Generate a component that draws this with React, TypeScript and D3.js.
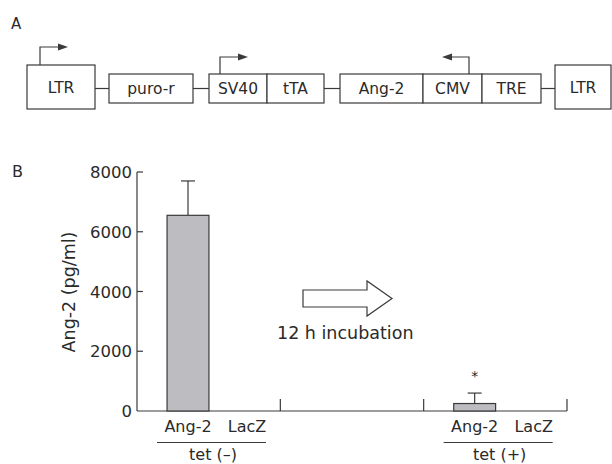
import * as d3 from "d3";

// ---- data ----
const slots = ["tet (–)", "gap", "tet (+)"];
const subCats = ["Ang-2", "LacZ"];
const means = [
  [6550, 0],
  [0, 0],
  [250, 0],
];
const errors = [
  [1150, 0],
  [0, 0],
  [350, 0],
];
const yTicks = [0, 2000, 4000, 6000, 8000];

// construct elements (panel A)
const leftParts = ["puro-r"];
const sv40Parts = ["SV40", "tTA"];
const angParts = ["Ang-2", "CMV", "TRE"];

const W = 612;
const H = 464;
const FONT = "'DejaVu Sans', sans-serif";
const INK = "#3a3a3a";
const TXT = "#2a2a2a";

export default function App() {
  const y = d3.scaleLinear().domain([0, 8000]).range([411, 172]);
  const x0 = d3.scaleBand().domain(slots).range([137, 567]);
  const x1 = d3
    .scaleBand()
    .domain(subCats)
    .range([21.5, 139.5])
    .paddingInner(0.29)
    .paddingOuter(0.145);

  const arrowHead = (tx: number, ty: number, dir: number) =>
    `M${tx},${ty} L${tx - dir * 10},${ty - 3.5} L${tx - dir * 10},${ty + 3.5} Z`;

  const box = (x: number, w: number, top: number, h: number, label: string, key: string) => (
    <g key={key}>
      <rect x={x} y={top} width={w} height={h} fill="white" stroke={INK} strokeWidth={1.2} />
      <text x={x + w / 2} y={top + h / 2 + 5.5} textAnchor="middle" fontSize={15.5} fill={TXT}>
        {label}
      </text>
    </g>
  );

  return (
    <svg width={W} height={H} style={{ position: "absolute", left: 0, top: 0, background: "white" }} fontFamily={FONT}>
      {/* Panel A */}
      <text x={11} y={29} fontSize={15} fill={TXT}>A</text>
      {/* connector lines */}
      {[[95, 109], [193, 209], [324, 340], [541, 555]].map(([a, b], i) => (
        <line key={i} x1={a} x2={b} y1={88.5} y2={88.5} stroke={INK} strokeWidth={1.2} />
      ))}
      {box(27, 68, 65, 44, "LTR", "ltr1")}
      {box(109, 84, 74, 29, leftParts[0], "puro")}
      {box(209, 58, 74, 29, sv40Parts[0], "sv40")}
      {box(267, 57, 74, 29, sv40Parts[1], "tta")}
      {box(340, 83, 74, 29, angParts[0], "ang")}
      {box(423, 59, 74, 29, angParts[1], "cmv")}
      {box(482, 59, 74, 29, angParts[2], "tre")}
      {box(555, 56, 65, 44, "LTR", "ltr2")}
      {/* promoter arrows */}
      <path d="M40,65 V47 H58" fill="none" stroke={INK} strokeWidth={1.2} />
      <path d={arrowHead(68, 47, 1)} fill={INK} />
      <path d="M220,74 V57 H238" fill="none" stroke={INK} strokeWidth={1.2} />
      <path d={arrowHead(248, 57, 1)} fill={INK} />
      <path d="M469,74 V57 H452" fill="none" stroke={INK} strokeWidth={1.2} />
      <path d={arrowHead(442, 57, -1)} fill={INK} />

      {/* Panel B */}
      <text x={12} y={177} fontSize={16} fill={TXT}>B</text>
      {/* y axis */}
      <line x1={137} x2={137} y1={y(8000)} y2={y(0)} stroke={INK} strokeWidth={1.2} />
      {yTicks.map((t) => (
        <g key={t}>
          {t > 0 && <line x1={137} x2={143} y1={y(t)} y2={y(t)} stroke={INK} strokeWidth={1.2} />}
          <text x={132} y={y(t) + 6} textAnchor="end" fontSize={16.5} fill={TXT}>{t}</text>
        </g>
      ))}
      <text transform={`translate(75,292) rotate(-90)`} textAnchor="middle" fontSize={17.5} fill={TXT}>
        Ang-2 (pg/ml)
      </text>
      {/* x axis */}
      <line x1={137} x2={567} y1={y(0)} y2={y(0)} stroke={INK} strokeWidth={1.2} />
      {slots.map((s) => {
        const xe = (x0(s) as number) + x0.bandwidth();
        return <line key={s} x1={xe} x2={xe} y1={y(0)} y2={y(0) - 12} stroke={INK} strokeWidth={1.2} />;
      })}
      {/* bars */}
      {slots.map((s, gi) =>
        subCats.map((c, ci) => {
          const v = means[gi][ci];
          if (v <= 0) return null;
          const bx = (x0(s) as number) + (x1(c) as number);
          const cx = bx + x1.bandwidth() / 2;
          const top = y(v + errors[gi][ci]);
          return (
            <g key={s + c}>
              <line x1={cx} x2={cx} y1={y(v)} y2={top} stroke={INK} strokeWidth={1.2} />
              <line x1={cx - 7} x2={cx + 7} y1={top} y2={top} stroke={INK} strokeWidth={1.2} />
              <rect x={bx} y={y(v)} width={x1.bandwidth()} height={y(0) - y(v)} fill="#bdbdc1" stroke={INK} strokeWidth={1.2} />
            </g>
          );
        })
      )}
      {/* significance mark */}
      <text
        x={(x0("tet (+)") as number) + (x1("Ang-2") as number) + x1.bandwidth() / 2}
        y={381}
        textAnchor="middle"
        fontSize={14}
        fill={TXT}
      >
        *
      </text>
      {/* category labels */}
      {slots
        .filter((s) => s !== "gap")
        .map((s) => {
          const gx = x0(s) as number;
          return (
            <g key={s}>
              {subCats.map((c) => (
                <text key={c} x={gx + (x1(c) as number) + x1.bandwidth() / 2} y={432} textAnchor="middle" fontSize={16} fill={TXT}>
                  {c}
                </text>
              ))}
              <line x1={gx + 20} x2={gx + 129} y1={442.5} y2={442.5} stroke={INK} strokeWidth={1.2} />
              <text x={gx + 76} y={460} textAnchor="middle" fontSize={16} fill={TXT}>{s}</text>
            </g>
          );
        })}
      {/* incubation arrow */}
      <path
        d="M303,290 H367 V281 L392,298.5 L367,316 V307 H303 Z"
        fill="white"
        stroke={INK}
        strokeWidth={1.2}
      />
      <text x={277} y={339} fontSize={17.5} fill={TXT}>12 h incubation</text>
    </svg>
  );
}
